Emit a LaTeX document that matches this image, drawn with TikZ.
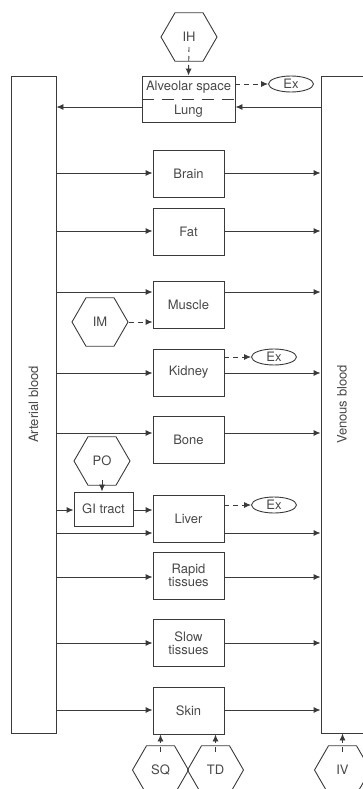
\documentclass[tikz,border=0pt]{standalone}
\usepackage{fontspec}
\setmainfont{TeX Gyre Heros}
\usetikzlibrary{shapes.geometric,arrows.meta,positioning,calc}
\definecolor{LN}{HTML}{3A3A3A}
\definecolor{TX}{HTML}{484848}
\tikzset{
  lbl/.style={font=\fontsize{13}{15}\selectfont, text=TX, inner sep=1pt},
  organ/.style={lbl, draw=LN, line width=0.9pt,
                minimum width=71pt, minimum height=47pt,
                inner sep=0pt, align=center},
  blood/.style={draw=LN, line width=0.9pt, inner sep=0pt,
                minimum width=45pt, minimum height=657pt},
  route/.style={lbl, draw=LN, line width=0.9pt,
                regular polygon, regular polygon sides=6,
                minimum size=56pt, inner sep=0pt},
  exitx/.style={lbl, draw=LN, line width=0.9pt, ellipse,
                minimum width=45pt, minimum height=16pt, inner sep=0pt},
  flow/.style={draw=LN, line width=0.9pt, -{Latex[length=7pt,width=6pt]}},
  dose/.style={flow, dash pattern=on 5pt off 4pt},
}

\begin{document}
\begin{tikzpicture}[x=1pt, y=-1pt]
    \useasboundingbox (0,0) rectangle (363,789);
    \clip (0,0) rectangle (363,789);

    \node[blood] (art) at (33.5,404.5) {};
    \node[blood, minimum width=80pt] (ven) at (361,404.5) {};
    \node[lbl, rotate=90] (artlbl) at (art.center) {Arterial blood};
    \node[lbl, rotate=90] (venlbl) at (342,404.5) {Venous blood};

    % lung with alveolar space
    \node[organ, minimum width=93pt, minimum height=46pt] (lung) at (188.5,99) {};
    \node[lbl] (alv) at (188.5,87) {Alveolar space};
    \node[lbl] (lungtx) at (188.5,111) {Lung};
    \draw[LN, line width=0.9pt, dash pattern=on 12pt off 8pt]
        (lung.west) -- (lung.east);
    \node[route] (ih) at (189,37) {IH};
    \node[exitx] (exlung) at (291,84) {Ex};
    \draw[dose] ($(ih.center)+(0,10)$) -- (lung.north);
    \draw[dose] (lung.east |- exlung) -- (exlung.west);
    \draw[flow] (ven.west |- 0,107) -- (lung.east |- 0,107);
    \draw[flow] (lung.west |- 0,107) -- (art.east |- 0,107);

    \node[organ] (brain) at (188.5,173.5) {Brain};
    \node[organ] (fat) at (188.5,232) {Fat};
    \node[organ] (muscle) at (188.5,305) {Muscle};
    \node[organ] (kidney) at (188.5,372.5) {Kidney};
    \node[organ] (bone) at (188.5,440) {Bone};
    \node[organ] (liver) at (188.5,518.5) {Liver};
    \node[organ] (rapid) at (188.5,575.5) {Rapid\\[-2pt]tissues};
    \node[organ] (slow) at (188.5,643) {Slow\\[-2pt]tissues};
    \node[organ] (skin) at (188.5,710.5) {Skin};

    \foreach \org/\yy in {brain/173, fat/231, muscle/292, kidney/373,
                          bone/433, liver/533, rapid/577, slow/643, skin/710} {
      \draw[flow] (art.east |- 0,\yy) -- (\org.west |- 0,\yy);
      \draw[flow] (\org.east |- 0,\yy) -- (ven.west |- 0,\yy);
    }

    % intramuscular
    \node[route] (im) at (100,322) {IM};
    \draw[dose] (im.east) -- (muscle.west |- im.east);

    % renal and hepatic clearance
    \node[exitx] (exkid) at (274,357) {Ex};
    \draw[dose] (kidney.east |- exkid) -- (exkid.west);
    \node[exitx] (exliv) at (274,505) {Ex};
    \draw[dose] (liver.east |- exliv) -- (exliv.west);

    % oral
    \node[route] (po) at (102,461) {PO};
    \node[organ, minimum width=59pt, minimum height=34pt] (gi) at (103.5,509) {GI tract};
    \draw[flow] ($(po.center)+(0,19)$) -- (gi.north -| po.center);
    \draw[flow] (art.east |- 0,510) -- (gi.west |- 0,510);
    \draw[flow] (gi.east |- 0,510) -- (liver.west |- 0,510);

    % skin and venous routes
    \node[route] (sq) at (160.5,770) {SQ};
    \node[route] (td) at (215.5,770) {TD};
    \node[route] (iv) at (342.5,770) {IV};
    \draw[dose] ($(sq.center)+(0,-18)$) -- (skin.south -| sq.center);
    \draw[dose] ($(td.center)+(0,-18)$) -- (skin.south -| td.center);
    \draw[dose] ($(iv.center)+(0,-18)$) -- (ven.south -| iv.center);
\end{tikzpicture}
\end{document}
